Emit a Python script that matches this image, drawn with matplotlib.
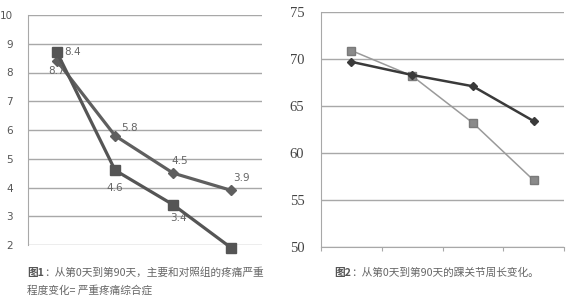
import numpy as np
import matplotlib
matplotlib.use('Agg')
import matplotlib.pyplot as plt

plt.rcParams['font.family'] = ['DejaVu Sans']

# chart 1: pain severity
pos = [0.5, 1.5, 2.5, 3.5]
pain_main = [8.7, 4.6, 3.4, 1.9]   # squares
pain_ctrl = [8.4, 5.8, 4.5, 3.9]   # diamonds
pain_yticks = [2, 3, 4, 5, 6, 7, 8, 9, 10]
# labels as printed in the source (text, x-index, y value, offset px)
pain_labels = [('8.4', 0, 8.7, (7, 0), 'left'),
               ('8.7', 0, 8.4, (0, -10), 'center'),
               ('5.8', 1, 5.8, (14, 8), 'center'),
               ('4.5', 2, 4.5, (7, 12), 'center'),
               ('3.9', 3, 3.9, (10, 12), 'center'),
               ('4.6', 1, 4.6, (0, -18), 'center'),
               ('3.4', 2, 3.4, (5, -13), 'center')]

# chart 2: ankle circumference
ankle_a = [70.9, 68.2, 63.2, 57.1]  # squares
ankle_b = [69.7, 68.3, 67.1, 63.4]  # diamonds
ankle_yticks = [50, 55, 60, 65, 70, 75]

fig = plt.figure(figsize=(5.8, 3.02), dpi=100)
fig.patch.set_facecolor('white')

# ---- left chart
ax1 = fig.add_axes([28/580, 1-245/302, 234/580, 230/302])
ax1.set_xlim(0, 4.03)
ax1.set_ylim(2, 10)
ax1.set_yticks(pain_yticks)
ax1.grid(axis='y', color='#a8a8a8', lw=1)
ax1.set_axisbelow(True)
for s in ['top', 'right', 'bottom']:
    ax1.spines[s].set_visible(False)
ax1.spines['left'].set_color('#a8a8a8')
ax1.set_xticks([])
ax1.tick_params(axis='y', length=0, pad=11, labelsize=7.5, labelcolor='#555555')
ax1.plot(pos, pain_ctrl, color='#5f5f5f', lw=2.3, marker='D', ms=5.5, clip_on=False, zorder=3)
ax1.plot(pos, pain_main, color='#555555', lw=2.3, marker='s', ms=7.5, clip_on=False, zorder=4)
for txt, i, y, off, ha in pain_labels:
    ax1.annotate(txt, (pos[i], y), xytext=off, textcoords='offset pixels',
                 ha=ha, va='center', fontsize=7.5, color='#666666')

# ---- right chart
ax2 = fig.add_axes([321/580, 1-247/302, 243/580, 235/302])
ax2.set_xlim(0, 4)
ax2.set_ylim(50, 75)
ax2.set_yticks(ankle_yticks)
ax2.set_yticklabels([str(v) for v in ankle_yticks], fontfamily='Liberation Serif')
ax2.grid(axis='y', color='#a8a8a8', lw=1)
ax2.set_axisbelow(True)
for s in ['top', 'right']:
    ax2.spines[s].set_visible(False)
for s in ['left', 'bottom']:
    ax2.spines[s].set_color('#a8a8a8')
ax2.set_xticks([0, 1, 2, 3, 4])
ax2.set_xticklabels([])
ax2.tick_params(axis='x', direction='out', length=3, color='#a8a8a8')
ax2.tick_params(axis='y', length=0, pad=12, labelsize=10.5, labelcolor='#444444')
ax2.plot(pos, ankle_a, color='#9a9a9a', lw=1.1, marker='s', ms=5.5, mfc='#8a8a8a', mec='#7a7a7a', zorder=3)
ax2.plot(pos, ankle_b, color='#3a3a3a', lw=1.8, marker='D', ms=4, zorder=4)

# ---- captions
cjk = ['Noto Sans CJK SC', 'DejaVu Sans']
fig.text(27/580, 1-273/302, '图1', family=cjk, fontsize=7.7, weight='bold', color='#555555', va='center')
fig.text(44/580, 1-273/302, '：从第0天到第90天，主要和对照组的疼痛严重', family=cjk, fontsize=7.7,
         color='#666666', va='center')
fig.text(27/580, 1-290/302, '程度变化= 严重疼痛综合症', family=cjk, fontsize=7.7, color='#666666', va='center')
fig.text(334/580, 1-273/302, '图2', family=cjk, fontsize=7.7, weight='bold', color='#555555', va='center')
fig.text(351/580, 1-273/302, '：从第0天到第90天的踝关节周长变化。', family=cjk, fontsize=7.7,
         color='#666666', va='center')

fig.savefig('out.png', dpi=100)
